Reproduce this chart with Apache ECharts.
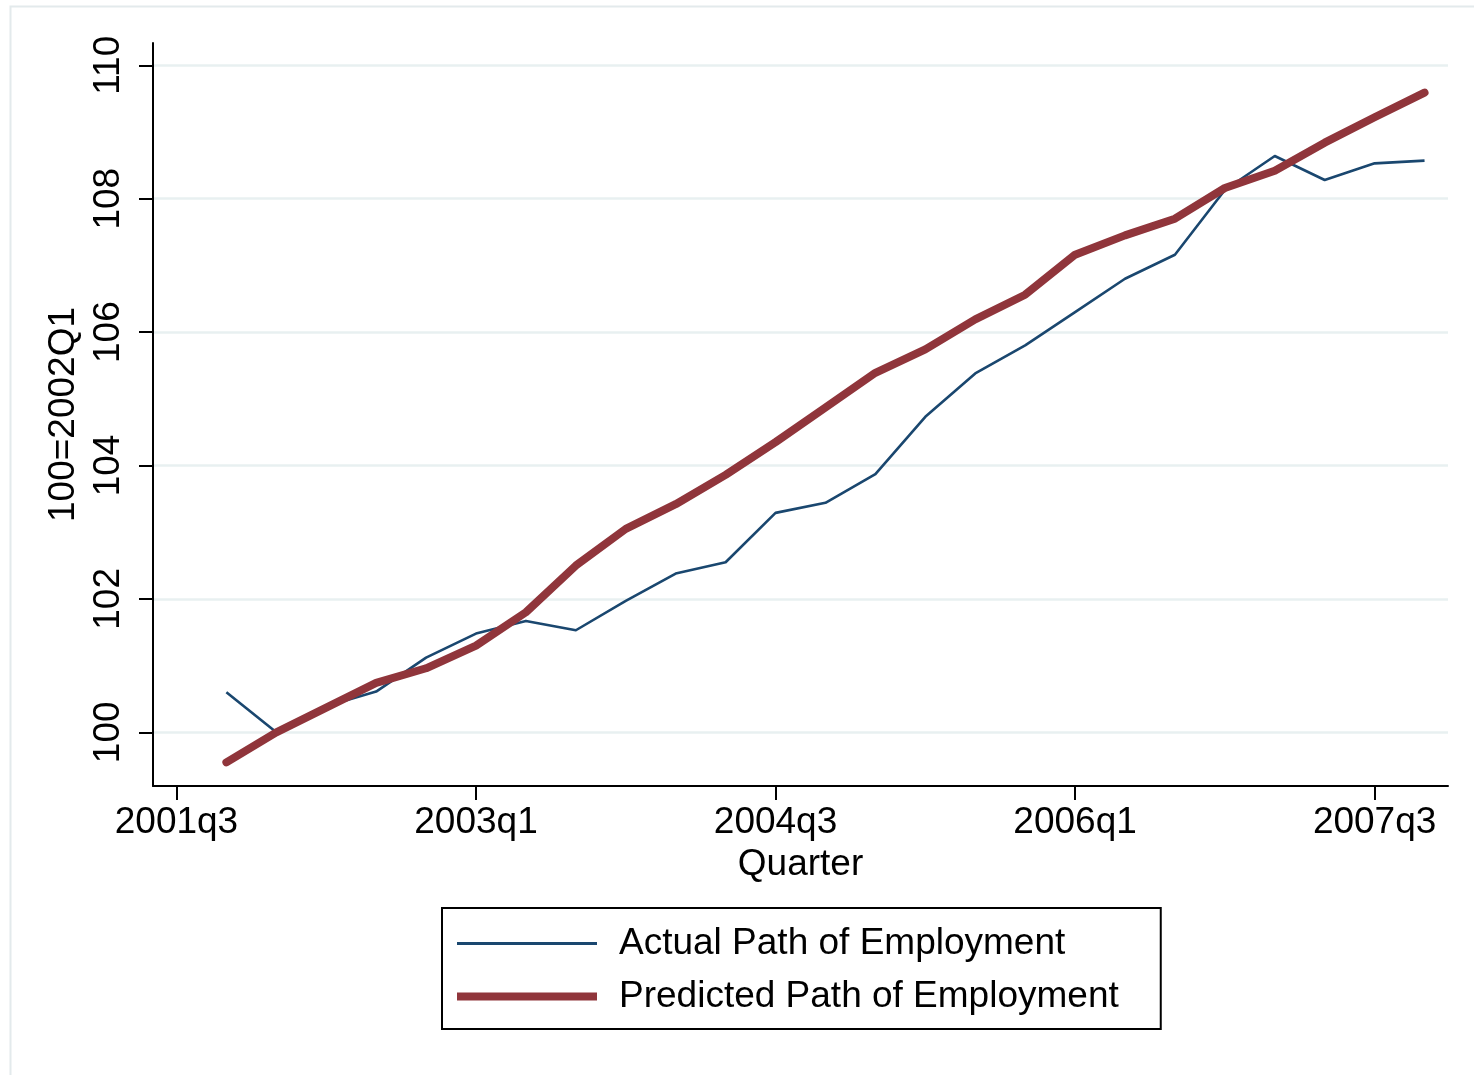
<!DOCTYPE html>
<html>
<head>
<meta charset="utf-8">
<title>Actual and Predicted Path of Employment</title>
<script src="https://cdn.jsdelivr.net/npm/echarts@6/dist/echarts.min.js"></script>
<style>
  html, body { margin: 0; padding: 0; background: #ffffff; }
  #chart { width: 1474px; height: 1075px; }
</style>
</head>
<body>
<div id="chart"></div>
<script>
// Quarters with observations (index 100 = 2002Q1)
const quarters = [
  '2001q4', '2002q1', '2002q2', '2002q3', '2002q4',
  '2003q1', '2003q2', '2003q3', '2003q4',
  '2004q1', '2004q2', '2004q3', '2004q4',
  '2005q1', '2005q2', '2005q3', '2005q4',
  '2006q1', '2006q2', '2006q3', '2006q4',
  '2007q1', '2007q2', '2007q3', '2007q4'
];

const actualEmployment = [
  100.60, 100.00, 100.39, 100.61, 101.12,
  101.48, 101.67, 101.53, 101.97,
  102.38, 102.55, 103.29, 103.44,
  103.87, 104.73, 105.38, 105.80,
  106.30, 106.80, 107.16, 108.13,
  108.64, 108.28, 108.53, 108.57
];

const predictedEmployment = [
  99.55, 100.00, 100.37, 100.74, 100.96,
  101.30, 101.80, 102.50, 103.05,
  103.42, 103.86, 104.35, 104.87,
  105.39, 105.74, 106.19, 106.56,
  107.16, 107.45, 107.70, 108.16,
  108.42, 108.84, 109.22, 109.59
];

const xTickLabels = ['2001q3', '2003q1', '2004q3', '2006q1', '2007q3'];
const yTickValues = [100, 102, 104, 106, 108, 110];

// Quarter string -> number of quarters since 2001q3
function quarterIndex(label) {
  const m = /^(\d{4})q([1-4])$/.exec(label);
  return (Number(m[1]) - 2001) * 4 + (Number(m[2]) - 3);
}

const xTickValues = xTickLabels.map(quarterIndex);
const labelByIndex = {};
xTickLabels.forEach(function (l) { labelByIndex[quarterIndex(l)] = l; });

const actualData = quarters.map(function (q, i) { return [quarterIndex(q), actualEmployment[i]]; });
const predictedData = quarters.map(function (q, i) { return [quarterIndex(q), predictedEmployment[i]]; });

const FONT = '"Liberation Sans", Arial, Helvetica, sans-serif';
const BLUE = '#1a476f';
const MAROON = '#90353b';
const GRID = '#e8f0f1';

const chart = echarts.init(document.getElementById('chart'), null, { renderer: 'canvas' });

chart.setOption({
  backgroundColor: '#ffffff',
  animation: false,
  textStyle: { fontFamily: FONT },
  graphic: [{
    type: 'rect',
    left: 8, top: 4,
    shape: { width: 1480, height: 1090 },
    style: { fill: 'none', stroke: '#e3eaec', lineWidth: 2 },
    silent: true,
    z: -1
  }],
  grid: {
    left: 153, top: 43, width: 1295, height: 743,
    containLabel: false
  },
  xAxis: {
    type: 'value',
    min: -0.47, max: 25.47,
    name: 'Quarter',
    nameLocation: 'middle',
    nameGap: 58,
    nameTextStyle: { fontSize: 37, color: '#000', fontFamily: FONT },
    axisLine: { show: true, onZero: false, lineStyle: { color: '#000', width: 2 } },
    axisTick: { show: true, length: 14, customValues: xTickValues, lineStyle: { color: '#000', width: 2 } },
    axisLabel: {
      customValues: xTickValues,
      fontSize: 37, color: '#000', fontFamily: FONT, margin: 18,
      formatter: function (v) { return labelByIndex[Math.round(v)] || ''; }
    },
    splitLine: { show: false }
  },
  yAxis: {
    type: 'value',
    min: 99.195, max: 110.334,
    name: '100=2002Q1',
    nameLocation: 'middle',
    nameGap: 67,
    nameTextStyle: { fontSize: 37, color: '#000', fontFamily: FONT },
    axisLine: { show: true, onZero: false, lineStyle: { color: '#000', width: 2 } },
    axisTick: { show: true, length: 14, customValues: yTickValues, lineStyle: { color: '#000', width: 2 } },
    axisLabel: {
      customValues: yTickValues,
      rotate: 90,
      fontSize: 37, color: '#000', fontFamily: FONT, margin: 26
    },
    splitLine: { show: true, lineStyle: { color: GRID, width: 2.5 } }
  },
  legend: {
    orient: 'vertical',
    left: 442, top: 908,
    itemWidth: 140, itemHeight: 36, itemGap: 16,
    symbolKeepAspect: true,
    padding: [17, 42, 14, 15],
    borderColor: '#000', borderWidth: 2,
    backgroundColor: '#fff',
    textStyle: { fontSize: 37, color: '#000', fontFamily: FONT, padding: [0, 0, 0, 17] },
    data: [
      { name: 'Actual Path of Employment', icon: 'path://M0,0H140V3H0Z', itemStyle: { color: BLUE } },
      { name: 'Predicted Path of Employment', icon: 'path://M0,0H140V8H0Z', itemStyle: { color: MAROON } }
    ]
  },
  series: [
    {
      name: 'Actual Path of Employment',
      type: 'line',
      data: actualData,
      symbol: 'none',
      color: BLUE,
      lineStyle: { color: BLUE, width: 2.6, join: 'round' },
      z: 2
    },
    {
      name: 'Predicted Path of Employment',
      type: 'line',
      data: predictedData,
      symbol: 'none',
      color: MAROON,
      lineStyle: { color: MAROON, width: 8, cap: 'round', join: 'round' },
      z: 3
    }
  ]
});
</script>
</body>
</html>
